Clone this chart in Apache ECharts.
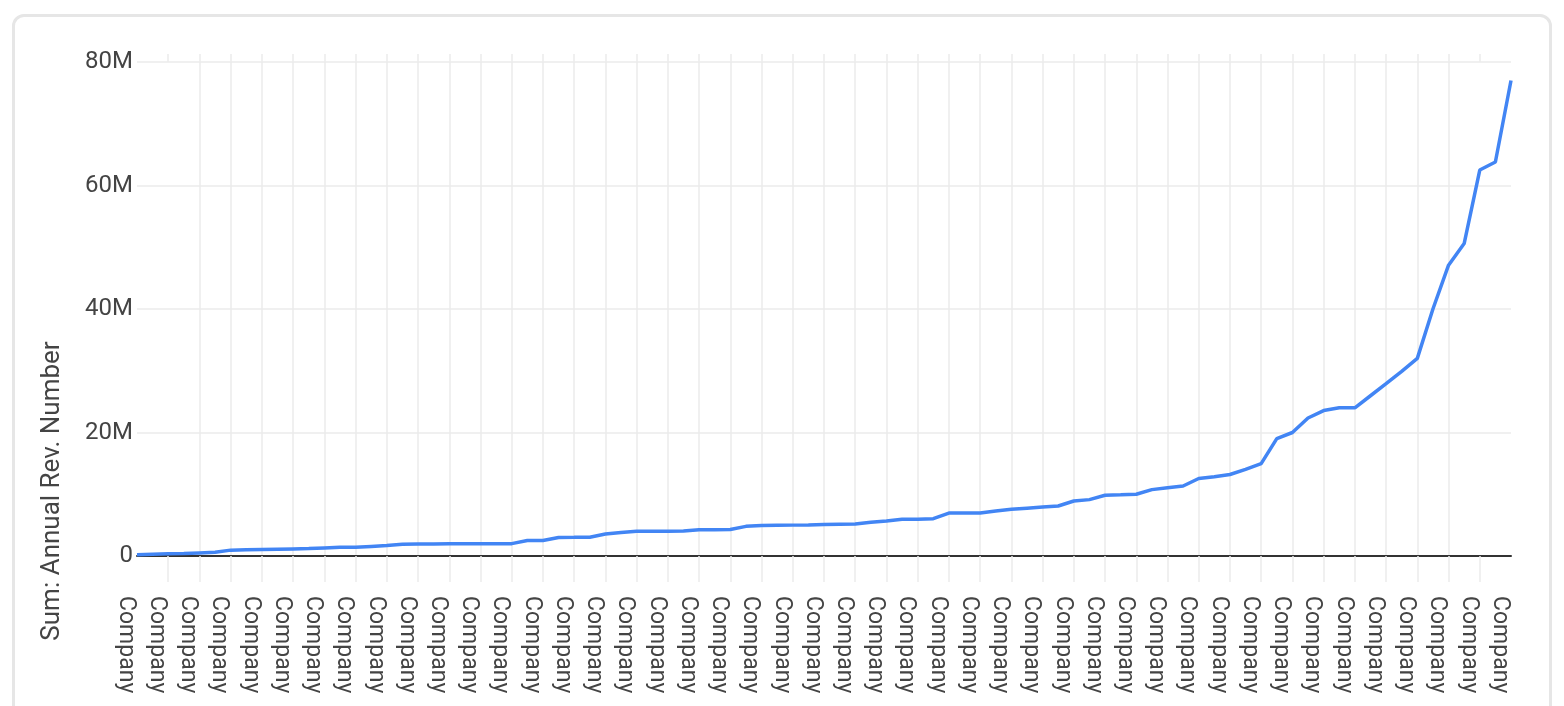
<!DOCTYPE html>
<html>
<head>
<meta charset="utf-8">
<script src="https://cdn.jsdelivr.net/npm/echarts@6/dist/echarts.min.js"></script>
<style>
  html, body { margin: 0; padding: 0; background: #fff; overflow: hidden; }
  .card {
    position: absolute; left: 12px; top: 14px;
    width: 1540px; height: 760px;
    box-sizing: border-box;
    border: 3px solid #e6e6e6; border-radius: 12px;
  }
  #chart { position: absolute; left: 0; top: 0; width: 1564px; height: 706px; }
</style>
</head>
<body>
<div class="card"></div>
<div id="chart"></div>
<script>
// annual revenue per company, in millions, sorted ascending
const revenueM = [
  0.2, 0.3, 0.35, 0.4, 0.5, 0.6, 0.95, 1.0, 1.05, 1.1,
  1.15, 1.2, 1.3, 1.4, 1.4, 1.55, 1.7, 1.9, 1.95, 1.95,
  1.97, 1.98, 2.0, 2.0, 2.0, 2.5, 2.5, 3.0, 3.02, 3.05,
  3.55, 3.8, 4.0, 4.0, 4.02, 4.05, 4.27, 4.27, 4.28, 4.8,
  4.92, 4.97, 5.0, 5.02, 5.1, 5.15, 5.2, 5.46, 5.67, 5.94,
  5.95, 6.05, 6.96, 6.96, 6.97, 7.3, 7.56, 7.75, 7.94, 8.1,
  8.9, 9.13, 9.83, 9.9, 10.0, 10.75, 11.07, 11.34, 12.55, 12.85,
  13.2, 14.04, 14.96, 19.0, 20.0, 22.35, 23.55, 24.0, 24.0, 25.95,
  27.9, 29.9, 32.0, 40.0, 47.1, 50.6, 62.5, 63.8, 77.0
];
const categories = revenueM.map(() => 'Company');
const yTicksM = [0, 20, 40, 60, 80];
const yTitle = 'Sum: Annual Rev. Number';

const font = 'Roboto';
const gridColor = '#ebebeb';
const n = categories.length;
// grid lines on every other company, not on the two edges
const tickFn = (i) => i % 2 === 0 && i > 0 && i < n - 1;

const chart = echarts.init(document.getElementById('chart'));
chart.setOption({
  animation: false,
  grid: { left: 137, right: 53, top: 62, bottom: 150, containLabel: false, outerBoundsMode: 'none' },
  graphic: [{
    type: 'text',
    x: 52, y: 491,
    rotation: Math.PI / 2,
    style: {
      text: yTitle,
      fill: '#444',
      font: '26px ' + font,
      textAlign: 'center',
      textVerticalAlign: 'middle'
    }
  }],
  xAxis: [
    {
      type: 'category',
      data: categories,
      boundaryGap: false,
      position: 'bottom',
      axisLine: { show: true, onZero: true, lineStyle: { color: '#333', width: 2 } },
      axisTick: { show: true, interval: tickFn, length: 26, lineStyle: { color: gridColor, width: 1.5 } },
      axisLabel: {
        interval: (i) => i % 2 === 0,
        rotate: -90,
        margin: 40,
        verticalAlign: 'top',
        color: '#444',
        fontSize: 23,
        fontFamily: font
      },
      splitLine: {
        show: true, interval: tickFn, showMinLine: false, showMaxLine: false,
        lineStyle: { color: gridColor, width: 1.5 }
      }
    },
    {
      // only used to push the vertical grid lines a bit above the plot
      type: 'category',
      data: categories,
      boundaryGap: false,
      position: 'top',
      axisLine: { show: false },
      axisTick: { show: true, interval: tickFn, length: 8, lineStyle: { color: gridColor, width: 1.5 } },
      axisLabel: { show: false },
      splitLine: { show: false }
    }
  ],
  yAxis: {
    type: 'value',
    min: yTicksM[0] * 1e6,
    max: yTicksM[yTicksM.length - 1] * 1e6,
    interval: (yTicksM[1] - yTicksM[0]) * 1e6,
    axisLine: { show: false },
    axisTick: { show: false },
    axisLabel: {
      margin: 4,
      color: '#444',
      fontSize: 24,
      fontFamily: font,
      formatter: (v) => v === 0 ? '0' : (v / 1e6) + 'M'
    },
    splitLine: { lineStyle: { color: gridColor, width: 1.5 } }
  },
  series: [{
    type: 'line',
    data: revenueM.map((v) => v * 1e6),
    symbol: 'none',
    lineStyle: { color: '#4285f4', width: 3.5 },
    z: 3
  }]
});
</script>
</body>
</html>
